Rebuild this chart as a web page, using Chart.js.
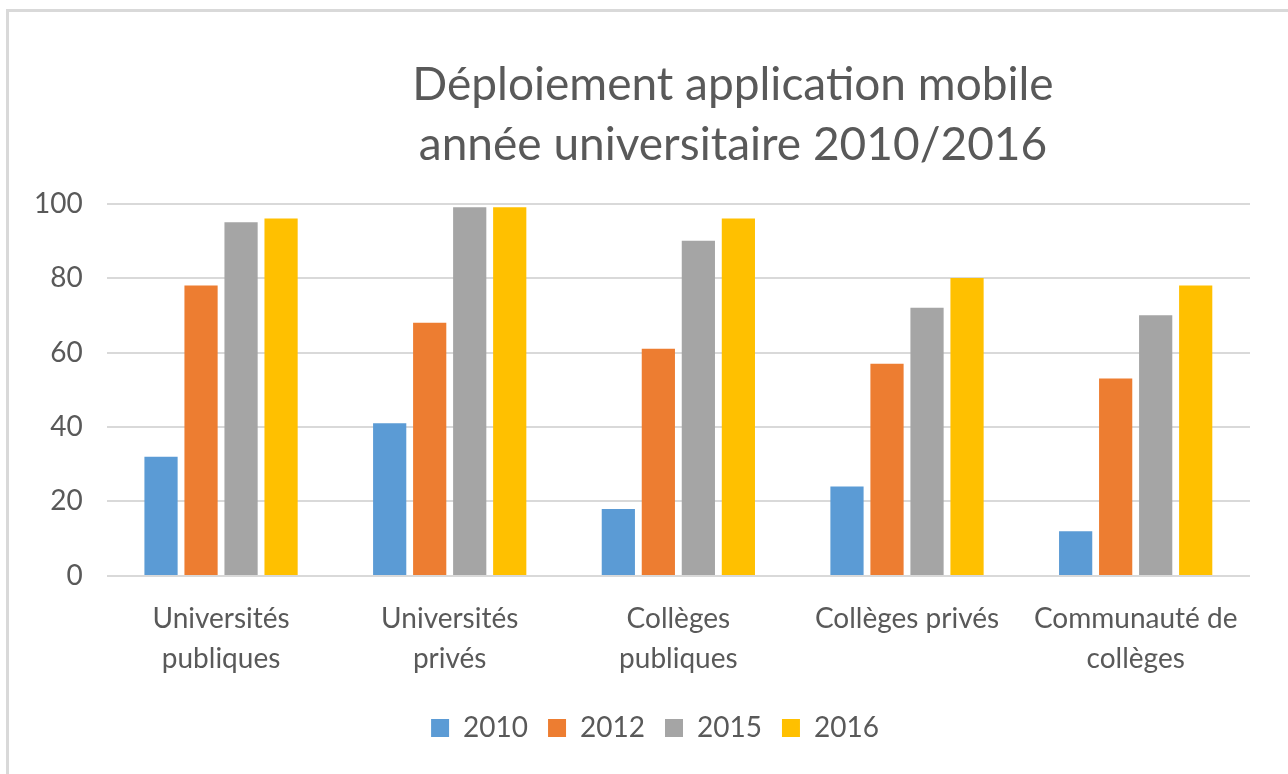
<!DOCTYPE html>
<html>
<head>
<meta charset="utf-8">
<script src="https://cdn.jsdelivr.net/npm/chart.js@4"></script>
<style>
  html, body { margin: 0; padding: 0; background: #fff; overflow: hidden; }
  #frame { position: absolute; left: 6px; top: 9px; width: 1300px; height: 800px; border: 3px solid #d9d9d9; }
  #wrap { position: absolute; left: 0; top: 0; width: 1288px; height: 774px; }
</style>
</head>
<body>
<div id="frame"></div>
<div id="wrap"><canvas id="chart"></canvas></div>
<script>
  'use strict';

  const categories = [
    ['Universités', 'publiques'],
    ['Universités', 'privés'],
    ['Collèges', 'publiques'],
    'Collèges privés',
    ['Communauté de', 'collèges'],
  ];
  const years = ['2010', '2012', '2015', '2016'];
  const values2010 = [32, 41, 18, 24, 12];
  const values2012 = [78, 68, 61, 57, 53];
  const values2015 = [95, 99, 90, 72, 70];
  const values2016 = [96, 99, 96, 80, 78];
  const colors = ['#5b9bd5', '#ed7d31', '#a5a5a5', '#ffc000'];
  const yTicks = [0, 20, 40, 60, 80, 100];

  const FONT = "Lato, 'Liberation Sans', sans-serif";
  const TEXT = '#595959';

  // nudge title and legend sideways, the way the spreadsheet placed them
  const shiftBlocks = {
    id: 'shiftBlocks',
    afterLayout(chart) {
      const move = (box, cx) => {
        if (!box) return;
        const d = cx - (box.left + box.right) / 2;
        box.left += d;
        box.right += d;
        if (box.legendHitBoxes) box.legendHitBoxes.forEach(h => { h.left += d; });
      };
      move(chart.titleBlock, 733);
      move(chart.legend, 655);
    },
  };

  const series = [values2010, values2012, values2015, values2016];

  new Chart(document.getElementById('chart'), {
    type: 'bar',
    data: {
      labels: categories,
      datasets: years.map((y, i) => ({
        label: y,
        data: series[i],
        backgroundColor: colors[i],
        borderWidth: 0,
        categoryPercentage: 0.7,
        barPercentage: 0.83,
      })),
    },
    plugins: [shiftBlocks],
    options: {
      responsive: true,
      maintainAspectRatio: false,
      animation: false,
      layout: { padding: { left: 10, right: 38, top: 55, bottom: 22 } },
      plugins: {
        title: {
          display: true,
          text: ['Déploiement application mobile', 'année universitaire 2010/2016'],
          color: TEXT,
          font: { family: FONT, size: 46, weight: 'normal', lineHeight: 1.3 },
          padding: { top: 0, bottom: 29 },
        },
        legend: {
          position: 'bottom',
          labels: {
            color: TEXT,
            font: { family: FONT, size: 28 },
            boxWidth: 18,
            boxHeight: 18,
            padding: 20,
          },
        },
        tooltip: { enabled: false },
      },
      scales: {
        y: {
          min: 0,
          max: 100,
          afterBuildTicks: (s) => { s.ticks = yTicks.map(v => ({ value: v })); },
          ticks: { color: TEXT, font: { family: FONT, size: 28 }, padding: 24 },
          grid: { color: '#d9d9d9', lineWidth: 2, drawTicks: false },
          border: { display: false },
        },
        x: {
          ticks: {
            color: TEXT,
            font: { family: FONT, size: 28, lineHeight: 1.43 },
            padding: 15,
            maxRotation: 0,
            autoSkip: false,
          },
          grid: { display: false },
          border: { display: false },
        },
      },
    },
  });
</script>
</body>
</html>
